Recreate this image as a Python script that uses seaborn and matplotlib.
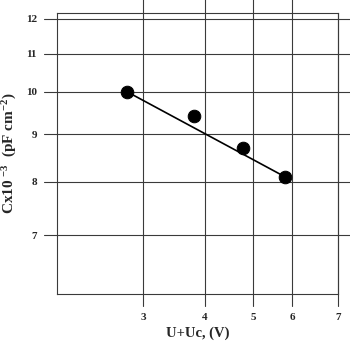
import matplotlib
matplotlib.use('Agg')
import matplotlib.pyplot as plt
import seaborn as sns
import pandas as pd
from matplotlib.ticker import NullLocator

# measured points
bias_v = [2.79, 3.80, 4.77, 5.80]
cap = [10.0, 9.41, 8.71, 8.10]

# fitted line, drawn from first to last point
fit_x = [2.79, 5.80]
fit_y = [10.0, 8.10]

x_ticks = [3, 4, 5, 6]
x_tick_labels = ['3', '4', '5', '6', '7']
y_ticks = [7, 8, 9, 10, 11, 12]

sns.set_style('white')
plt.rcParams['font.family'] = ['Liberation Serif', 'DejaVu Serif']
plt.rcParams['font.weight'] = 'bold'
plt.rcParams['mathtext.fontset'] = 'custom'
plt.rcParams['mathtext.rm'] = 'Liberation Serif:bold'
plt.rcParams['mathtext.it'] = 'Liberation Serif:bold'
plt.rcParams['mathtext.bf'] = 'Liberation Serif:bold'

df = pd.DataFrame({'U': bias_v, 'C': cap})
df_fit = pd.DataFrame({'U': fit_x, 'C': fit_y})

fig = plt.figure(figsize=(3.5, 3.41), dpi=100)
ax = fig.add_axes([57 / 350, 1 - 294 / 341, 281 / 350, 281.3 / 341])

ax.set_xscale('log')
ax.set_yscale('log')
x_right = 7.43
ax.set_xlim(2.01, x_right)
ax.set_ylim(6.05, 12.18)

grid_col = '#3a3a3a'
# grid lines run past the frame like in the scanned original
for x in x_ticks:
    ax.axvline(x, ymin=-0.043, ymax=1.05, color=grid_col, lw=0.8, clip_on=False, zorder=1)
ax.axvline(x_right, ymin=-0.043, ymax=1.0, color=grid_col, lw=0.8, clip_on=False, zorder=1)
for y in y_ticks:
    ax.axhline(y, xmin=-0.046, xmax=1.05, color=grid_col, lw=0.8, clip_on=False, zorder=1)

sns.lineplot(data=df_fit, x='U', y='C', ax=ax, color='black', lw=1.2, zorder=2)
sns.scatterplot(data=df, x='U', y='C', ax=ax, color='black', s=82, edgecolor='black', zorder=3)

for side in ['left', 'right', 'top', 'bottom']:
    ax.spines[side].set_color(grid_col)
    ax.spines[side].set_linewidth(0.8)

ax.set_xticks(x_ticks + [x_right])
ax.set_xticklabels(x_tick_labels)
ax.set_yticks(y_ticks)
ax.set_yticklabels([str(v) for v in y_ticks])
ax.xaxis.set_minor_locator(NullLocator())
ax.yaxis.set_minor_locator(NullLocator())
ax.tick_params(axis='both', length=0, labelsize=8)
ax.tick_params(axis='y', pad=14.5)
ax.tick_params(axis='x', pad=14)

ax.set_xlabel('U+Uc, (V)', fontsize=10.5, fontweight='bold', labelpad=3)
ax.set_ylabel(r'Cx10 $^{-3}$  (pF cm$^{-2}$)', fontsize=11, fontweight='bold')
ax.yaxis.set_label_coords(-0.135, 0.5)

fig.savefig('out.png', dpi=100)
